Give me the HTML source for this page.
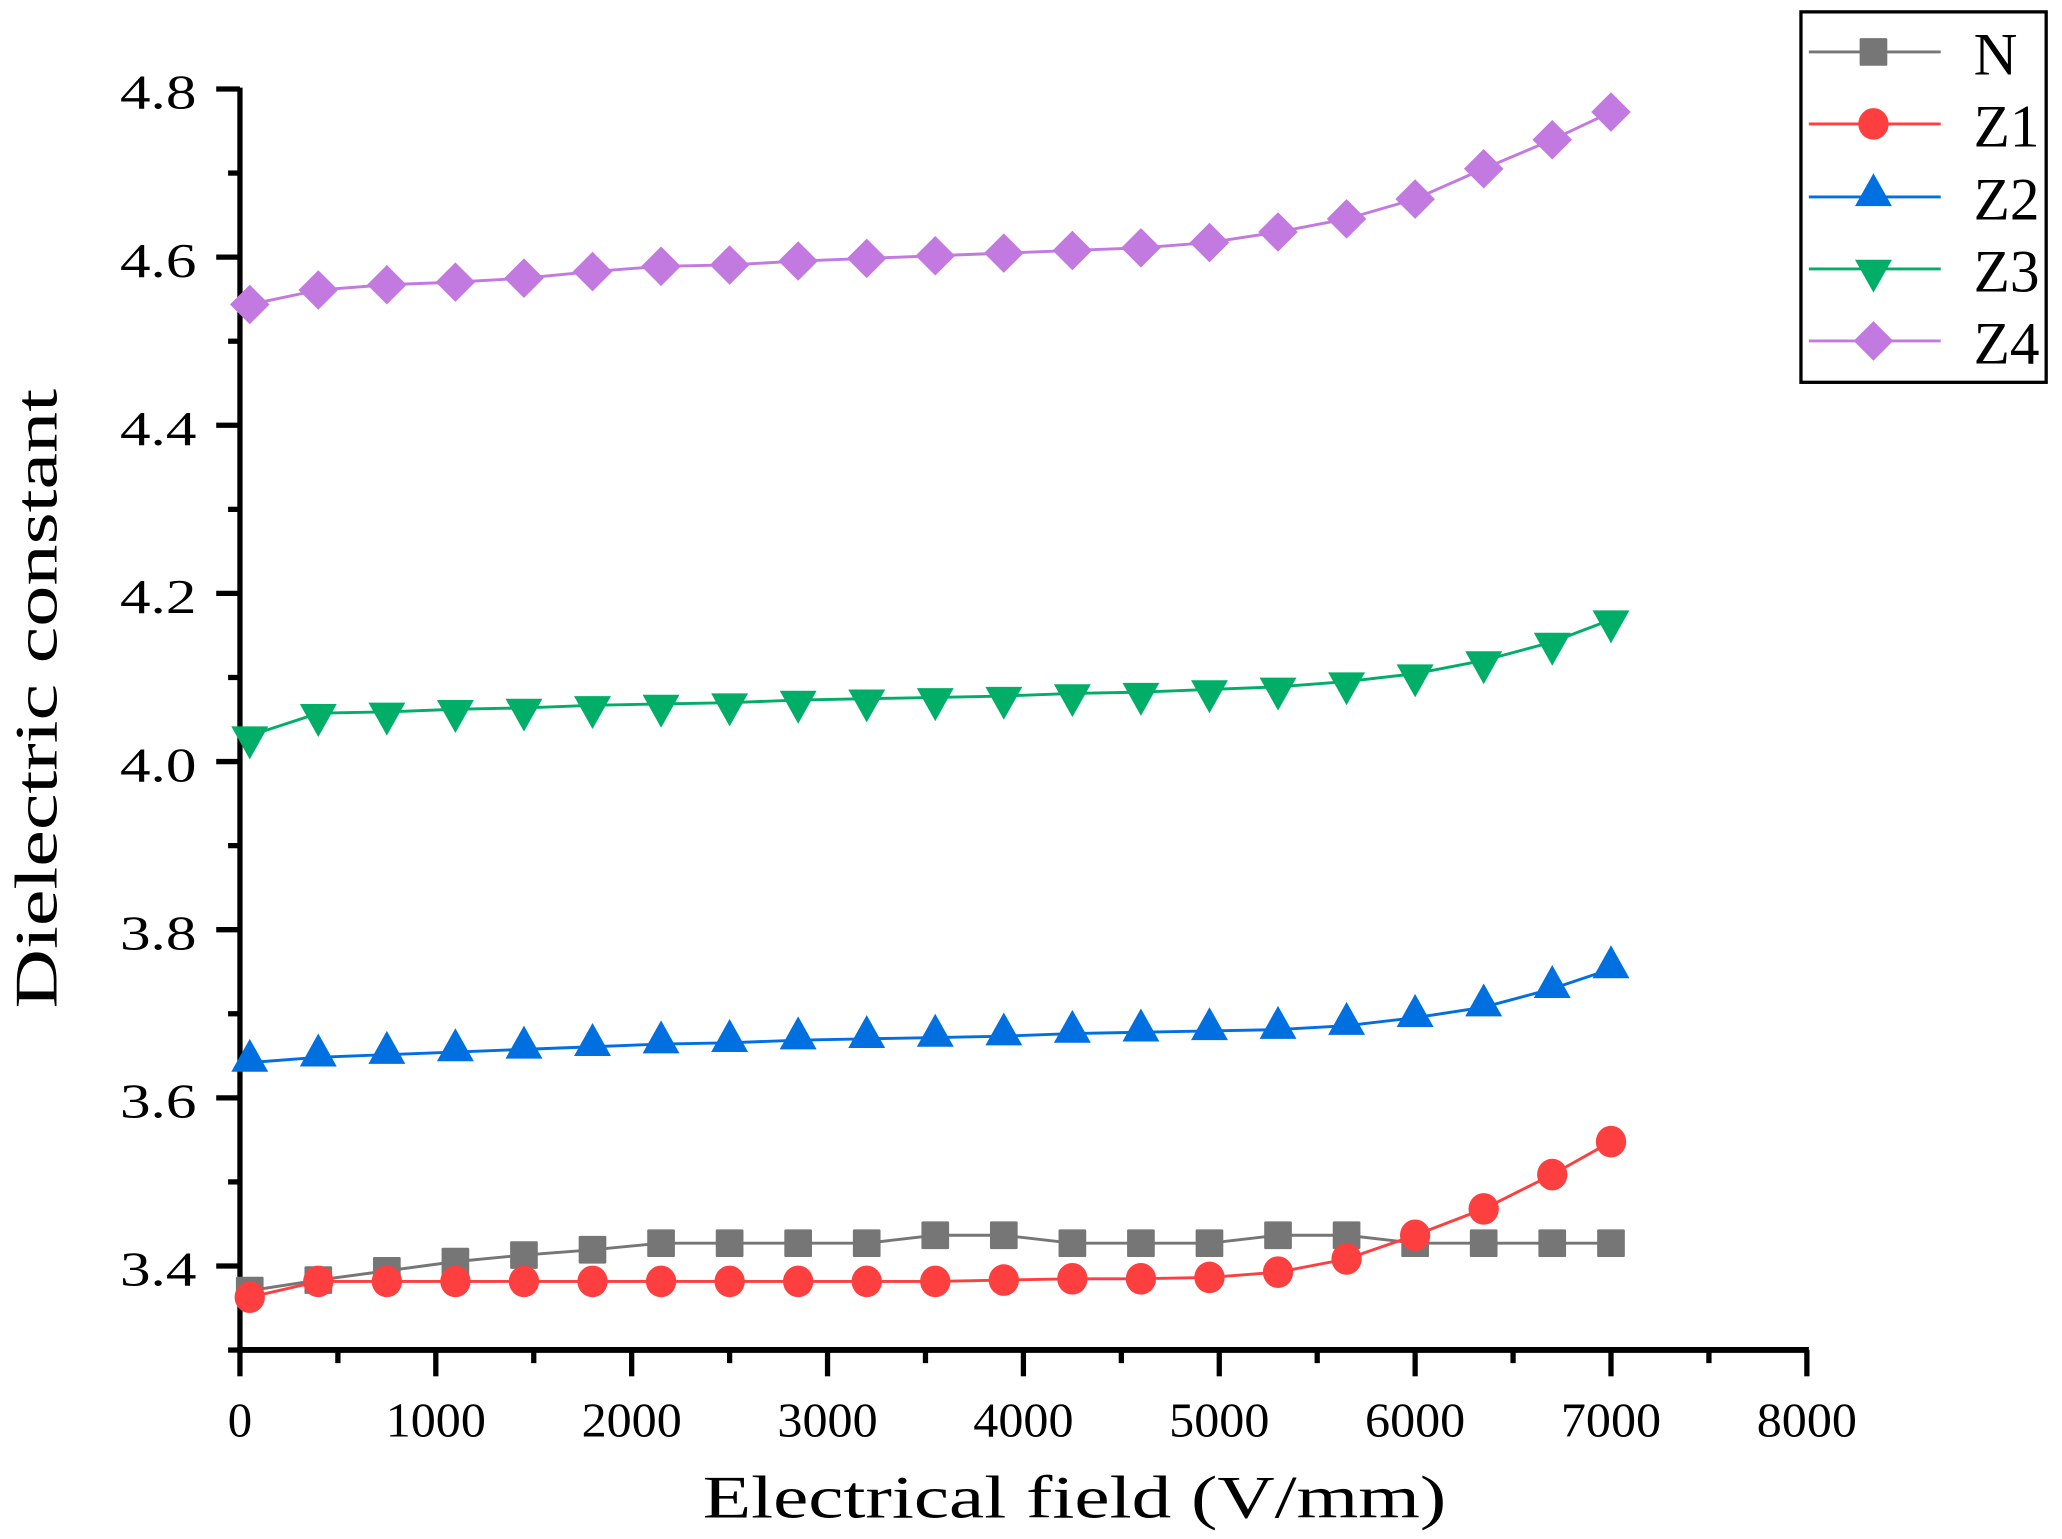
<!DOCTYPE html>
<html><head><meta charset="utf-8"><style>html,body{margin:0;padding:0;background:#fff}svg{display:block}
svg text{font-family:"Liberation Serif","Times New Roman",serif;font-weight:normal}</style></head>
<body>
<svg id="s" width="2062" height="1539" viewBox="0 0 1564 1167.4" preserveAspectRatio="none" xmlns="http://www.w3.org/2000/svg">
<g id="g"></g>
</svg>
<script>
const g=document.getElementById('g');let h='';
const X0=182,XS=148.56,AY=1024,Y48=67.5,Y34=960.3;
const vy=v=>Y48+(4.8-v)/1.4*(Y34-Y48);
const xs=[];for(let i=0;i<20;i++)xs.push(50+350*i);xs.push(7000);
const px=x=>X0+x*XS/1000;
h+=`<line x1="${X0}" y1="${Y48-1}" x2="${X0}" y2="${AY+2}" stroke="#000" stroke-width="4"/>`;
h+=`<line x1="${X0-2}" y1="${AY}" x2="1372" y2="${AY}" stroke="#000" stroke-width="4.5"/>`;
for(let k=0;k<=15;k++){const v=3.3+k*0.1;const y=vy(v);const maj=k%2==1;
h+=`<line x1="${X0-(maj?18:9)}" y1="${y}" x2="${X0}" y2="${y}" stroke="#000" stroke-width="4"/>`;
if(maj)h+=`<text x="${X0-33}" y="${y+15}" font-size="37" text-anchor="end" textLength="58" lengthAdjust="spacingAndGlyphs">${v.toFixed(1)}</text>`;}
for(let k=0;k<=16;k++){const x=X0+k*XS/2;const maj=k%2==0;
h+=`<line x1="${x}" y1="${AY}" x2="${x}" y2="${AY+(maj?20:10)}" stroke="#000" stroke-width="4"/>`;
if(maj){const t=String(k*500);h+=`<text x="${x}" y="1089.5" font-size="37" text-anchor="middle" ${t.length>1?'textLength="76" lengthAdjust="spacingAndGlyphs"':''}>${t}</text>`;}}
h+=`<text x="815" y="1151" font-size="46" text-anchor="middle" textLength="564" lengthAdjust="spacingAndGlyphs">Electrical field (V/mm)</text>`;
h+=`<text transform="translate(43,530) rotate(-90)" x="0" y="0" font-size="46" text-anchor="middle" textLength="470" lengthAdjust="spacingAndGlyphs">Dielectric constant</text>`;
const S=[
{c:'#767676',m:'sq',y:[979,971,964,957,952,948,943,943,943,943,937,937,943,943,943,937,937,943,943,943,943]},
{c:'#fe3f3f',m:'ci',y:[984,972,972,972,972,972,972,972,972,972,972,971,970,970,969,965,955,937,917,891,866]},
{c:'#0070e0',m:'tu',y:[806,802,800,798,796,794,792,791,789,788,787,786,784,783,782,781,778,772,764,750,735]},
{c:'#00ae68',m:'td',y:[558,541,540,538,537,535,534,533,531,530,529,528,526,525,523,521,517,511,501,487,470]},
{c:'#c27ae0',m:'di',y:[231,220,216,214,211,206,202,201,198,196,194,192,190,188,184,176,166,151,128,106,85]}];
function mk(m,x,y,c){
if(m=='sq')return `<rect x="${x-10.5}" y="${y-10.5}" width="21" height="21" rx="1" fill="${c}"/>`;
if(m=='ci')return `<ellipse cx="${x}" cy="${y}" rx="11.5" ry="12" fill="${c}"/>`;
if(m=='tu')return `<polygon points="${x},${y-18} ${x-14},${y+7} ${x+14},${y+7}" fill="${c}"/>`;
if(m=='td')return `<polygon points="${x},${y+18} ${x-14},${y-7} ${x+14},${y-7}" fill="${c}"/>`;
return `<polygon points="${x},${y-15} ${x+15},${y} ${x},${y+15} ${x-15},${y}" fill="${c}"/>`;}
for(const s of S){const pts=xs.map((x,i)=>px(x)+','+s.y[i]).join(' ');
h+=`<polyline points="${pts}" fill="none" stroke="${s.c}" stroke-width="2.2"/>`;
xs.forEach((x,i)=>h+=mk(s.m,px(x),s.y[i],s.c));}
h+=`<rect x="1366" y="9" width="186" height="281" fill="#fff" stroke="#000" stroke-width="2.5"/>`;
const L=['N','Z1','Z2','Z3','Z4'],ry=[39.4,94,149.4,204,258.6];
S.forEach((s,i)=>{h+=`<line x1="1372" y1="${ry[i]}" x2="1472" y2="${ry[i]}" stroke="${s.c}" stroke-width="2.2"/>`;
h+=mk(s.m,1421,ry[i],s.c);
h+=`<text x="1497" y="${ry[i]+17}" font-size="46" ${L[i].length>1?'textLength="50" lengthAdjust="spacingAndGlyphs"':''}>${L[i]}</text>`;});
g.innerHTML=h;
</script>
</body></html>
